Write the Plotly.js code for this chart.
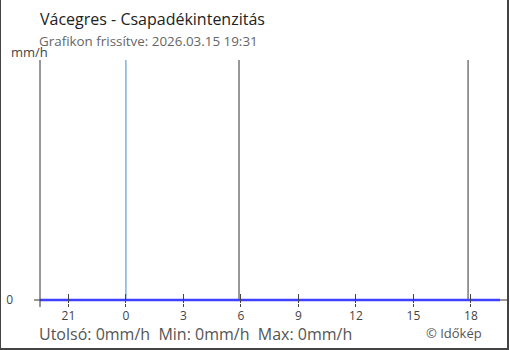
<!DOCTYPE html>
<html>
<head>
<meta charset="utf-8">
<script src="https://cdn.plot.ly/plotly-3.0.1.min.js"></script>
<style>
  html, body { margin: 0; padding: 0; background: #fff; }
  #wrap { position: relative; width: 510px; height: 350px; }
  #chart { width: 510px; height: 350px; }
  #frame { position: absolute; left: 0; top: 0; width: 509px; height: 350px; box-sizing: border-box;
           border-left: 1px solid #444; border-right: 2px solid #444; border-bottom: 2px solid #444; pointer-events: none; }
</style>
</head>
<body>
<div id="wrap"><div id="chart"></div><div id="frame"></div></div>
<script>
// ---- data ----
const times = [
  '2026-03-14 19:31', '2026-03-14 20:31', '2026-03-14 21:31', '2026-03-14 22:31', '2026-03-14 23:31',
  '2026-03-15 00:31', '2026-03-15 01:31', '2026-03-15 02:31', '2026-03-15 03:31', '2026-03-15 04:31',
  '2026-03-15 05:31', '2026-03-15 06:31', '2026-03-15 07:31', '2026-03-15 08:31', '2026-03-15 09:31',
  '2026-03-15 10:31', '2026-03-15 11:31', '2026-03-15 12:31', '2026-03-15 13:31', '2026-03-15 14:31',
  '2026-03-15 15:31', '2026-03-15 16:31', '2026-03-15 17:31', '2026-03-15 18:31', '2026-03-15 19:31'
];
const intensity = [0, 0, 0, 0, 0, 0, 0, 0, 0, 0, 0, 0, 0, 0, 0, 0, 0, 0, 0, 0, 0, 0, 0, 0, 0];
const tickTimes = ['2026-03-14 21:00', '2026-03-15 00:00', '2026-03-15 03:00', '2026-03-15 06:00',
                   '2026-03-15 09:00', '2026-03-15 12:00', '2026-03-15 15:00', '2026-03-15 18:00'];
const tickLabels = ['21', '0', '3', '6', '9', '12', '15', '18'];
const dayBoundaries = ['2026-03-15 00:00'];
const sunEvents = ['2026-03-15 05:54', '2026-03-15 17:51'];
const xRange = ['2026-03-14 19:31', '2026-03-15 19:31'];
const yRange = [-0.0125, 1];
const titleText = 'Vácegres - Csapadékintenzitás';
const subtitleText = 'Grafikon frissítve: 2026.03.15 19:31';
const footerText = 'Utolsó: 0mm/h&nbsp;&nbsp;Min: 0mm/h&nbsp;&nbsp;Max: 0mm/h';
const creditText = '© Időkép';
const unitText = 'mm/h';

const FONT = '"Open Sans", "Noto Sans", sans-serif';
const AX = '#444';

// plot area: x 40..500, y 60..303
const PT = 60, PH = 243, PL = 40, PW = 460;
const py = v => (PT + PH - v) / PH;   // pixel y -> paper y
const px = v => (v - PL) / PW;        // pixel x -> paper x

const shapes = [];
dayBoundaries.forEach(t => shapes.push({type: 'line', xref: 'x', yref: 'paper', x0: t, x1: t, y0: py(300), y1: 1,
  line: {color: '#3d8cc8', width: 1}, layer: 'below'}));
sunEvents.forEach(t => shapes.push({type: 'line', xref: 'x', yref: 'paper', x0: t, x1: t, y0: py(300), y1: 1,
  line: {color: '#333', width: 1}, layer: 'below'}));
shapes.push({type: 'line', xref: 'paper', yref: 'paper', x0: 0, x1: 0, y0: py(307), y1: 1, line: {color: '#333', width: 1}});
shapes.push({type: 'line', xref: 'paper', yref: 'y', x0: px(34), x1: px(508), y0: 0, y1: 0, line: {color: '#333', width: 1}, layer: 'below'});

const data = [
  {x: times, y: intensity, type: 'scatter', mode: 'lines', line: {color: '#4040ff', width: 2.5}, hoverinfo: 'skip'},
  {x: times, y: intensity, xaxis: 'x2', type: 'scatter', mode: 'lines', line: {color: 'rgba(0,0,0,0)', width: 0}, hoverinfo: 'skip', showlegend: false}
];

const layout = {
  width: 510, height: 350,
  margin: {l: 40, r: 10, t: 60, b: 47},
  paper_bgcolor: '#fff', plot_bgcolor: '#fff',
  showlegend: false,
  font: {family: FONT, color: AX},
  title: {text: titleText, xref: 'container', yref: 'container', x: 40/510, xanchor: 'left',
          y: 1 - 19/350, yanchor: 'middle', font: {family: FONT, size: 16, color: '#222'}},
  xaxis: {type: 'date', range: xRange, tickmode: 'array', tickvals: tickTimes, ticktext: tickLabels,
          ticks: 'outside', ticklen: 3, tickcolor: AX, tickwidth: 1, showgrid: false, zeroline: false,
          showline: false, tickfont: {family: FONT, size: 12, color: '#444'}, ticklabelstandoff: -1},
  xaxis2: {type: 'date', overlaying: 'x', matches: 'x', range: xRange, tickmode: 'array', tickvals: tickTimes,
           ticks: 'inside', ticklen: 9, tickcolor: AX, tickwidth: 1, showticklabels: false, showgrid: false,
           zeroline: false, showline: false, anchor: 'y'},
  yaxis: {range: yRange, tickmode: 'array', tickvals: [0], ticktext: ['0'], ticks: '', 
          showgrid: false, zeroline: false, showline: false, ticklabelstandoff: 26,
          tickfont: {family: FONT, size: 12, color: '#444'}, fixedrange: true},
  shapes: shapes,
  annotations: [
    {text: subtitleText, xref: 'paper', yref: 'paper', x: 0, xanchor: 'left', xshift: -3, y: py(41), yanchor: 'middle',
     showarrow: false, font: {family: FONT, size: 13.4, color: '#666'}},
    {text: unitText, xref: 'paper', yref: 'paper', x: px(12), xanchor: 'left', xshift: -3, y: py(52), yanchor: 'middle',
     showarrow: false, font: {family: FONT, size: 13, color: '#444'}},
    {text: footerText, xref: 'paper', yref: 'paper', x: 0, xanchor: 'left', xshift: -3, y: py(334), yanchor: 'middle',
     showarrow: false, font: {family: FONT, size: 16, color: '#555'}},
    {text: creditText, xref: 'paper', yref: 'paper', x: px(482), xanchor: 'right', xshift: 2, y: py(332.5), yanchor: 'middle',
     showarrow: false, font: {family: FONT, size: 13, color: '#555'}}
  ]
};

Plotly.newPlot('chart', data, layout, {displayModeBar: false, staticPlot: true});
</script>
</body>
</html>
